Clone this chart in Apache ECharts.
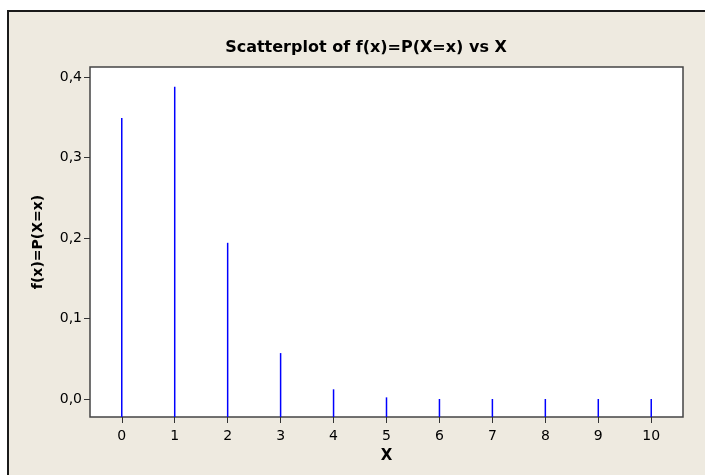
<!DOCTYPE html>
<html>
<head>
<meta charset="utf-8">
<script src="https://cdn.jsdelivr.net/npm/echarts@6/dist/echarts.min.js"></script>
<style>
  html, body { margin: 0; padding: 0; background: #ffffff; }
  #chart { width: 705px; height: 475px; }
</style>
</head>
<body>
<div id="chart"></div>
<script>
// valores
const xValues = [0, 1, 2, 3, 4, 5, 6, 7, 8, 9, 10];
const probs = [0.349, 0.388, 0.194, 0.057, 0.012, 0.002, 0, 0, 0, 0, 0];
const xTicks = [0, 1, 2, 3, 4, 5, 6, 7, 8, 9, 10];
const yTicks = [0, 0.1, 0.2, 0.3, 0.4];

const Y_MIN = -0.0224;
const Y_MAX = 0.4124;
const FONT = "Tahoma, 'DejaVu Sans', sans-serif";

const chart = echarts.init(document.getElementById('chart'));

chart.setOption({
    animation: false,
    graphic: [{
        type: 'rect',
        z: -10,
        silent: true,
        shape: { x: 8, y: 11, width: 720, height: 480 },
        style: { fill: '#eeeae0', stroke: '#1a1a1a', lineWidth: 2 }
    }],
    title: {
        text: 'Scatterplot of f(x)=P(X=x) vs X',
        left: 361,
        top: 35,
        textAlign: 'center',
        textStyle: { fontFamily: FONT, fontWeight: 'bold', fontSize: 16, color: '#000' }
    },
    grid: {
        left: 90,
        right: 22,
        top: 67,
        bottom: 58,
        show: true,
        backgroundColor: '#ffffff',
        borderColor: '#444444',
        borderWidth: 1.5
    },
    xAxis: {
        type: 'value',
        min: -0.6,
        max: 10.6,
        name: 'X',
        nameLocation: 'middle',
        nameGap: 32,
        nameTextStyle: { fontFamily: FONT, fontWeight: 'bold', fontSize: 15, color: '#000' },
        axisLine: { show: false, onZero: false },
        splitLine: { show: false },
        axisTick: { show: true, length: 6, customValues: xTicks, lineStyle: { color: '#333' } },
        axisLabel: { customValues: xTicks, margin: 12, fontFamily: FONT, fontSize: 14, color: '#000' }
    },
    yAxis: {
        type: 'value',
        min: Y_MIN,
        max: Y_MAX,
        name: 'f(x)=P(X=x)',
        nameLocation: 'middle',
        nameGap: 45,
        nameTextStyle: { fontFamily: FONT, fontWeight: 'bold', fontSize: 14, color: '#000' },
        axisLine: { show: false, onZero: false },
        splitLine: { show: false },
        axisTick: { show: true, length: 6, customValues: yTicks, lineStyle: { color: '#333' } },
        axisLabel: {
            customValues: yTicks,
            margin: 8,
            fontFamily: FONT,
            fontSize: 14,
            color: '#000',
            formatter: v => v.toFixed(1).replace('.', ',')
        }
    },
    series: [{
        type: 'custom',
        data: xValues.map((x, i) => [x, probs[i]]),
        renderItem: (params, api) => {
            const top = api.coord([api.value(0), api.value(1)]);
            const base = api.coord([api.value(0), Y_MIN]);
            return {
                type: 'line',
                shape: { x1: top[0], y1: top[1], x2: base[0], y2: base[1] },
                style: { stroke: '#0000ff', lineWidth: 1.5 }
            };
        }
    }]
});
</script>
</body>
</html>
